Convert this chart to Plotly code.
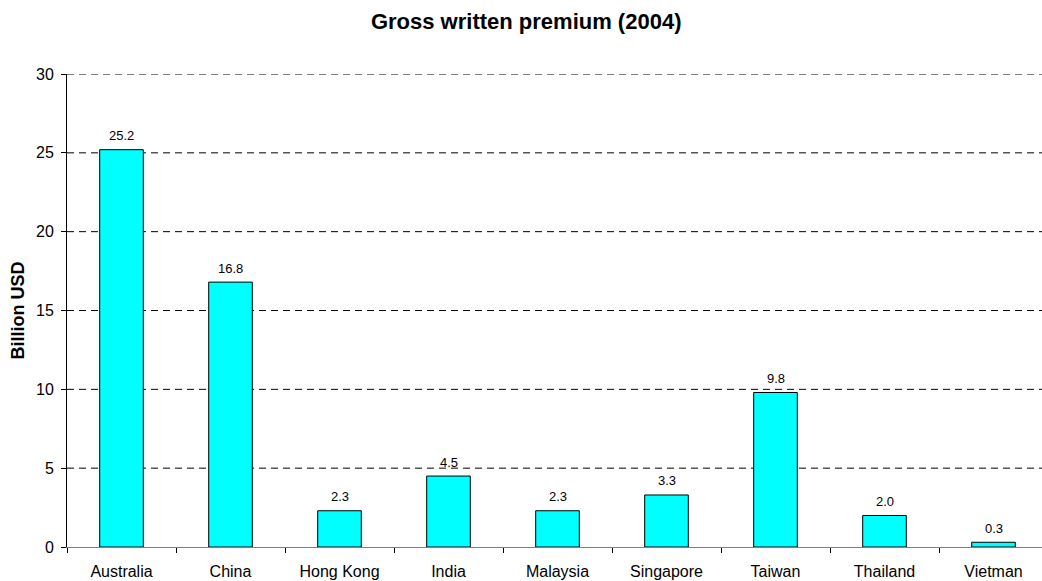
import plotly.graph_objects as go

countries = ["Australia", "China", "Hong Kong", "India", "Malaysia",
             "Singapore", "Taiwan", "Thailand", "Vietman"]
premium_busd = [25.2, 16.8, 2.3, 4.5, 2.3, 3.3, 9.8, 2.0, 0.3]
y_ticks = [0, 5, 10, 15, 20, 25, 30]

FONT = "Liberation Sans, Arial, sans-serif"

fig = go.Figure(
    go.Bar(
        x=countries,
        y=premium_busd,
        width=0.4,
        marker=dict(color="#00FFFF", line=dict(color="#000000", width=1)),
        hoverinfo="x+y",
    )
)

# dashed horizontal grid at every labelled tick above zero
for t in y_ticks[1:]:
    fig.add_shape(
        type="line", xref="paper", yref="y", x0=0, x1=1, y0=t, y1=t,
        line=dict(color="#000000", width=1, dash="7px,5px"), layer="below",
    )

# value labels above each bar
for c, v in zip(countries, premium_busd):
    fig.add_annotation(
        x=c, y=v, text=f"{v:.1f}", showarrow=False,
        xanchor="center", yanchor="middle", yshift=14,
        font=dict(family=FONT, size=13, color="#000000"),
    )

fig.update_layout(
    width=1042,
    height=581,
    paper_bgcolor="white",
    plot_bgcolor="white",
    margin=dict(l=67, r=0, t=74, b=34),
    showlegend=False,
    title=dict(
        text="<b>Gross written premium (2004)</b>",
        x=0.505,
        xanchor="center",
        y=1 - 21 / 581,
        yanchor="middle",
        font=dict(family=FONT, size=22, color="#000000"),
    ),
    font=dict(family=FONT, size=16, color="#000000"),
)

fig.update_xaxes(
    type="category",
    range=[-0.5, 8.445],
    tickson="boundaries",
    ticks="outside",
    ticklen=5,
    tickcolor="#000000",
    showline=True,
    linecolor="#808080",
    linewidth=1,
    showgrid=False,
    automargin=False,
    ticklabelstandoff=10,
    tickfont=dict(family=FONT, size=16, color="#000000"),
)

fig.update_yaxes(
    range=[0, 30],
    tickvals=y_ticks,
    ticks="outside",
    ticklen=5,
    tickcolor="#000000",
    showline=True,
    linecolor="#000000",
    linewidth=1,
    showgrid=False,
    zeroline=False,
    automargin=False,
    ticklabelstandoff=4,
    tickfont=dict(family=FONT, size=16, color="#000000"),
    title=dict(text="<b>Billion USD</b>", font=dict(family=FONT, size=18, color="#000000"), standoff=6),
)

fig.write_html("out.html")
